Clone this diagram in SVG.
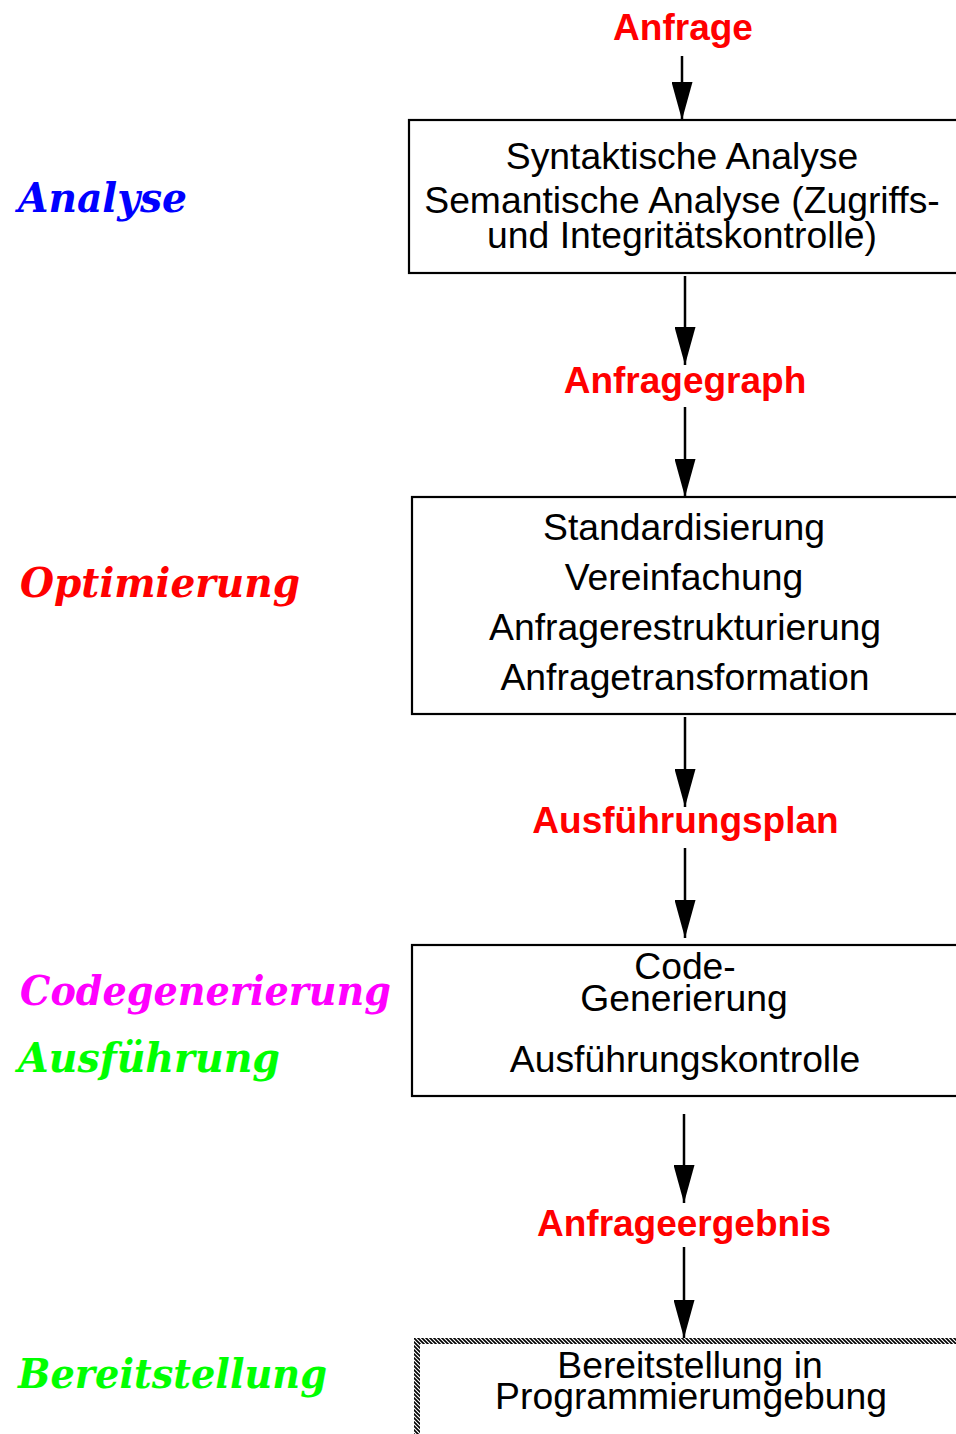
<svg xmlns="http://www.w3.org/2000/svg" width="956" height="1434" viewBox="0 0 956 1434">
<defs>
<style>
.box{fill:#fff;stroke:#000;stroke-width:2.2}
.bt{font-family:"Liberation Sans",Arial,sans-serif;font-size:37.3px;fill:#000;text-anchor:middle}
.rl{font-family:"Liberation Sans",Arial,sans-serif;font-size:37px;font-weight:bold;fill:#ff0000;text-anchor:middle}
.ph{font-family:"DejaVu Serif",serif;font-size:41px;font-weight:bold;font-style:italic}
.con{stroke:#000;stroke-width:2.5;fill:none;marker-end:url(#ah)}
</style>
<marker id="ah" viewBox="0 0 38 21" markerWidth="38" markerHeight="21" refX="38" refY="10.5" orient="auto" markerUnits="userSpaceOnUse">
<path d="M0,0 L38,10.5 L0,21 z" fill="#000"/>
</marker>
<pattern id="hatch" patternUnits="userSpaceOnUse" width="4" height="4">
<rect width="4" height="4" fill="#fff"/>
<path d="M-1,-1 L5,5 M-1,3 L1,5 M3,-1 L5,1" stroke="#000" stroke-width="1.6"/>
</pattern>
</defs>
<rect width="956" height="1434" fill="#fff"/>

<g id="phases">
<text class="ph" x="18" y="212" fill="#0000ff" textLength="169" lengthAdjust="spacingAndGlyphs">Analyse</text>
<text class="ph" x="20" y="597" fill="#ff0000" textLength="280" lengthAdjust="spacingAndGlyphs">Optimierung</text>
<text class="ph" x="20" y="1005" fill="#ff00ff" textLength="371" lengthAdjust="spacingAndGlyphs">Codegenerierung</text>
<text class="ph" x="18" y="1072" fill="#00ff00" textLength="262" lengthAdjust="spacingAndGlyphs">Ausführung</text>
<text class="ph" x="18" y="1388" fill="#00ff00" textLength="309" lengthAdjust="spacingAndGlyphs">Bereitstellung</text>
</g>

<g id="labels">
<text class="rl" x="683" y="40">Anfrage</text>
<text class="rl" x="685" y="393">Anfragegraph</text>
<text class="rl" x="685.5" y="833">Ausführungsplan</text>
<text class="rl" x="684" y="1236">Anfrageergebnis</text>
</g>

<g id="connectors">
<path class="con" d="M682,56 L682,120"/>
<path class="con" d="M685,276 L685,365"/>
<path class="con" d="M685,407 L685,497"/>
<path class="con" d="M685,717 L685,807"/>
<path class="con" d="M685,848 L685,938"/>
<path class="con" d="M684,1114 L684,1203"/>
<path class="con" d="M684,1247 L684,1338"/>
</g>

<g id="node-analyse">
<rect class="box" x="409" y="120" width="560" height="153"/>
<text class="bt" x="682" y="169">Syntaktische Analyse</text>
<text class="bt" x="682" y="213">Semantische Analyse (Zugriffs-</text>
<text class="bt" x="682" y="248">und Integritätskontrolle)</text>
</g>

<g id="node-optimierung">
<rect class="box" x="412" y="497" width="560" height="217"/>
<text class="bt" x="684" y="540">Standardisierung</text>
<text class="bt" x="684" y="590">Vereinfachung</text>
<text class="bt" x="685" y="640">Anfragerestrukturierung</text>
<text class="bt" x="685" y="690">Anfragetransformation</text>
</g>

<g id="node-code">
<rect class="box" x="412" y="945" width="560" height="151"/>
<text class="bt" x="685" y="979">Code-</text>
<text class="bt" x="684" y="1011">Generierung</text>
<text class="bt" x="685" y="1072">Ausführungskontrolle</text>
</g>

<g id="node-bereitstellung">
<rect x="417" y="1341" width="560" height="140" fill="#fff" stroke="url(#hatch)" stroke-width="6"/>
<text class="bt" x="690" y="1378">Bereitstellung in</text>
<text class="bt" x="691" y="1409">Programmierumgebung</text>
</g>
</svg>
